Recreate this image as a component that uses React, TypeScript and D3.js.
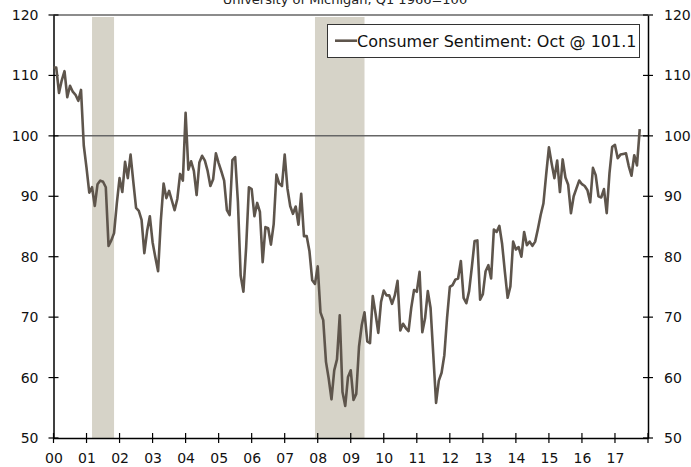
import React, { useRef, useEffect } from 'react'
import * as d3 from 'd3'

// monthly University of Michigan consumer sentiment, Jan 2000 .. Oct 2017
const sentiment2000 = [111.3, 111.3, 107.1, 109.2, 110.7, 106.4, 108.3, 107.3, 106.8, 105.8, 107.6, 98.4]
const sentiment2001 = [94.7, 90.6, 91.5, 88.4, 92.0, 92.6, 92.4, 91.5, 81.8, 82.7, 83.9, 88.8]
const sentiment2002 = [93.0, 90.7, 95.7, 93.0, 96.9, 92.4, 88.1, 87.6, 86.1, 80.6, 84.2, 86.7]
const sentiment2003 = [82.4, 79.9, 77.6, 86.0, 92.1, 89.7, 90.9, 89.3, 87.7, 89.6, 93.7, 92.6]
const sentiment2004 = [103.8, 94.4, 95.8, 94.2, 90.2, 95.6, 96.7, 95.9, 94.2, 91.7, 92.8, 97.1]
const sentiment2005 = [95.5, 94.1, 92.6, 87.7, 86.9, 96.0, 96.5, 89.1, 76.9, 74.2, 81.6, 91.5]
const sentiment2006 = [91.2, 86.7, 88.9, 87.4, 79.1, 84.9, 84.7, 82.0, 85.4, 93.6, 92.1, 91.7]
const sentiment2007 = [96.9, 91.3, 88.4, 87.1, 88.3, 85.3, 90.4, 83.4, 83.4, 80.9, 76.1, 75.5]
const sentiment2008 = [78.4, 70.8, 69.5, 62.6, 59.8, 56.4, 61.2, 63.0, 70.3, 57.6, 55.3, 60.1]
const sentiment2009 = [61.2, 56.3, 57.3, 65.1, 68.7, 70.8, 66.0, 65.7, 73.5, 70.6, 67.4, 72.5]
const sentiment2010 = [74.4, 73.6, 73.6, 72.2, 73.6, 76.0, 67.8, 68.9, 68.2, 67.7, 71.6, 74.5]
const sentiment2011 = [74.2, 77.5, 67.5, 69.8, 74.3, 71.5, 63.7, 55.8, 59.5, 60.8, 63.7, 69.9]
const sentiment2012 = [75.0, 75.3, 76.2, 76.4, 79.3, 73.2, 72.3, 74.3, 78.3, 82.6, 82.7, 72.9]
const sentiment2013 = [73.8, 77.6, 78.6, 76.4, 84.5, 84.1, 85.1, 82.1, 77.5, 73.2, 75.1, 82.5]
const sentiment2014 = [81.2, 81.6, 80.0, 84.1, 81.9, 82.5, 81.8, 82.5, 84.6, 86.9, 88.8, 93.6]
const sentiment2015 = [98.1, 95.4, 93.0, 95.9, 90.7, 96.1, 93.1, 91.9, 87.2, 90.0, 91.3, 92.6]
const sentiment2016 = [92.0, 91.7, 91.0, 89.0, 94.7, 93.5, 90.0, 89.8, 91.2, 87.2, 93.8, 98.2]
const sentiment2017 = [98.5, 96.3, 96.9, 97.0, 97.1, 95.0, 93.4, 96.8, 95.1, 101.1]

const sentiment = [
  ...sentiment2000, ...sentiment2001, ...sentiment2002, ...sentiment2003, ...sentiment2004,
  ...sentiment2005, ...sentiment2006, ...sentiment2007, ...sentiment2008, ...sentiment2009,
  ...sentiment2010, ...sentiment2011, ...sentiment2012, ...sentiment2013, ...sentiment2014,
  ...sentiment2015, ...sentiment2016, ...sentiment2017
]

// NBER recessions [start, end] as fractional years
const recessions = [[2001 + 2 / 12, 2001 + 10 / 12], [2007 + 11 / 12, 2009 + 5 / 12]]

const yearLabels = ['00', '01', '02', '03', '04', '05', '06', '07', '08', '09', '10', '11', '12', '13', '14', '15', '16', '17']
const yTicks = [50, 60, 70, 80, 90, 100, 110, 120]

const title = 'University of Michigan, Q1 1966=100'
const legendLabel = 'Consumer Sentiment: Oct @ 101.1'

const App = () => {
  const svgRef = useRef(null)
  const width = 691
  const height = 467
  const margin = { left: 53.5, right: 43, top: 15, bottom: 29 }

  useEffect(() => {
    const font = 'Verdana, "DejaVu Sans", sans-serif'
    const lineColor = '#5e554c'

    const xScale = d3
      .scaleLinear()
      .domain([2000, 2018])
      .range([margin.left, width - margin.right])

    const yScale = d3
      .scaleLinear()
      .domain([50, 120])
      .range([height - margin.bottom, margin.top])

    const svg = d3.select(svgRef.current)
    svg.selectAll('*').remove()

    // title, mostly cut off at the top
    svg
      .append('text')
      .attr('x', 345)
      .attr('y', 4)
      .attr('text-anchor', 'middle')
      .attr('font-family', font)
      .attr('font-size', 13)
      .attr('fill', '#222')
      .text(title)

    // recession shading
    svg
      .selectAll('.rec')
      .data(recessions)
      .enter()
      .append('rect')
      .attr('x', d => xScale(d[0]))
      .attr('width', d => xScale(d[1]) - xScale(d[0]))
      .attr('y', yScale(120) + 2)
      .attr('height', yScale(50) - yScale(120) - 2)
      .attr('fill', '#d6d3c8')

    // horizontal rules at 100 and 120
    svg
      .selectAll('.rule')
      .data([100, 120])
      .enter()
      .append('line')
      .attr('x1', xScale(2000))
      .attr('x2', xScale(2018))
      .attr('y1', d => yScale(d))
      .attr('y2', d => yScale(d))
      .attr('stroke', '#666')
      .attr('stroke-width', 1.5)

    // axes
    const yLeft = d3.axisLeft(yScale).tickValues(yTicks).tickSize(0).tickPadding(15)
    const yRight = d3.axisRight(yScale).tickValues(yTicks).tickSize(0).tickPadding(16)
    const xAxis = d3
      .axisBottom(xScale)
      .tickValues(d3.range(2000, 2019))
      .tickSize(0)
      .tickPadding(15)
      .tickFormat((d, i) => yearLabels[i] || '')

    const styleAxis = g => {
      g.select('.domain').attr('stroke', '#000').attr('stroke-width', 1.5)
      g.selectAll('text').attr('font-family', font).attr('font-size', 14).attr('fill', '#111')
    }

    const gl = svg.append('g').attr('transform', `translate(${xScale(2000)},0)`).call(yLeft)
    styleAxis(gl)
    const gr = svg.append('g').attr('transform', `translate(${xScale(2018)},0)`).call(yRight)
    styleAxis(gr)
    const gx = svg.append('g').attr('transform', `translate(0,${yScale(50)})`).call(xAxis)
    styleAxis(gx)
    gx.selectAll('text').attr('dy', '0.71em')

    // crossing tick marks
    svg
      .selectAll('.ytl')
      .data(yTicks)
      .enter()
      .append('line')
      .attr('x1', xScale(2000) - 5)
      .attr('x2', xScale(2000) + 5)
      .attr('y1', d => yScale(d))
      .attr('y2', d => yScale(d))
      .attr('stroke', '#000')
      .attr('stroke-width', 1.2)
    svg
      .selectAll('.ytr')
      .data(yTicks)
      .enter()
      .append('line')
      .attr('x1', xScale(2018) - 5)
      .attr('x2', xScale(2018) + 5)
      .attr('y1', d => yScale(d))
      .attr('y2', d => yScale(d))
      .attr('stroke', '#000')
      .attr('stroke-width', 1.2)
    svg
      .selectAll('.xt')
      .data(d3.range(2000, 2019))
      .enter()
      .append('line')
      .attr('x1', d => xScale(d))
      .attr('x2', d => xScale(d))
      .attr('y1', yScale(50) - 5)
      .attr('y2', yScale(50) + 5)
      .attr('stroke', '#000')
      .attr('stroke-width', 1.2)

    // sentiment line
    const line = d3
      .line()
      .x((d, i) => xScale(2000 + i / 12))
      .y(d => yScale(d))

    svg
      .append('path')
      .datum(sentiment)
      .attr('fill', 'none')
      .attr('stroke', lineColor)
      .attr('stroke-width', 2.6)
      .attr('stroke-linejoin', 'round')
      .attr('d', line)

    // legend
    const lg = svg.append('g')
    lg.append('rect')
      .attr('x', 327.5)
      .attr('y', 24.5)
      .attr('width', 312)
      .attr('height', 33)
      .attr('fill', '#fff')
      .attr('stroke', '#333')
      .attr('stroke-width', 1)
    lg.append('line')
      .attr('x1', 335)
      .attr('x2', 357)
      .attr('y1', 40.7)
      .attr('y2', 40.7)
      .attr('stroke', lineColor)
      .attr('stroke-width', 2.6)
    lg.append('text')
      .attr('x', 357)
      .attr('y', 46.5)
      .attr('font-family', font)
      .attr('font-size', 16)
      .attr('fill', '#111')
      .text(legendLabel)
  }, [])

  return <svg ref={svgRef} width={width} height={height} style={{ display: 'block', position: 'absolute', left: 0, top: 0 }} />
}

export default App
